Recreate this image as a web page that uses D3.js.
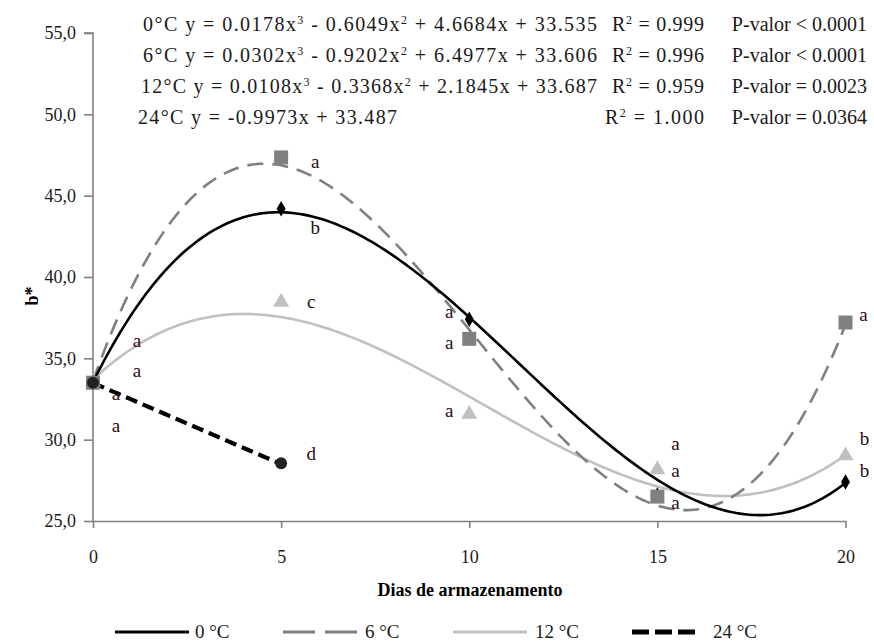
<!DOCTYPE html>
<html>
<head>
<meta charset="utf-8">
<script src="https://cdn.jsdelivr.net/npm/d3@7"></script>
<style>
  body { margin: 0; background: #fff; }
</style>
</head>
<body>
<script>
// storage days
var days = [0, 5, 10, 15, 20];

// observed b* values per temperature
var obs0 = [33.5, 44.2, 37.4, 26.6, 27.4];
var obs6 = [33.5, 47.35, 36.2, 26.5, 37.2];
var obs12 = [33.5, 38.4, 31.5, 28.1, 28.95];
var obs24 = [33.5, 28.55];

// regression coefficients as printed (x^3, x^2, x, const)
var coef0 = [0.0178, -0.6049, 4.6684, 33.535];
var coef6 = [0.0302, -0.9202, 6.4977, 33.606];
var coef12 = [0.0108, -0.3368, 2.1845, 33.687];
var coef24 = [0, 0, -0.9973, 33.487];

// significance letters per temperature
var let0 = ["a", "b", "a", "a", "b"];
var let6 = ["a", "a", "a", "a", "a"];
var let12 = ["a", "c", "a", "a", "b"];
var let24 = ["a", "d"];

var yTicks = [25, 30, 35, 40, 45, 50, 55];
var xTicks = [0, 5, 10, 15, 20];

var FONT = "'Liberation Serif', 'DejaVu Serif', serif";
var W = 874, H = 643;
var svg = d3.select("body").append("svg").attr("width", W).attr("height", H)
  .style("font-family", FONT);

var x = d3.scaleLinear().domain([0, 20]).range([93, 845.5]);
var y = d3.scaleLinear().domain([25, 55]).range([521, 33]);

// axes
var yAxis = d3.axisLeft(y).tickValues(yTicks).tickSize(9).tickPadding(8)
  .tickFormat(function(d) { return d3.format(".1f")(d).replace(".", ","); });
var gy = svg.append("g").attr("transform", "translate(" + x(0) + ",0)").call(yAxis);
var xAxis = d3.axisBottom(x).tickValues(xTicks).tickSize(7).tickPadding(22).tickSizeOuter(0);
var gx = svg.append("g").attr("transform", "translate(0," + y(25) + ")").call(xAxis);
[gx, gy].forEach(function(g) {
  g.attr("font-family", FONT);
  g.select(".domain").attr("stroke", "#808080").attr("stroke-width", 1.6);
  g.selectAll(".tick line").attr("stroke", "#808080").attr("stroke-width", 1.6);
  g.selectAll(".tick text").attr("font-size", 18).attr("fill", "#1a1a1a")
    .style("font-family", FONT);
});
gy.select(".domain").attr("d", "M-9," + y(55) + "H0V" + y(25));

svg.append("text").attr("x", 470).attr("y", 596).attr("text-anchor", "middle")
  .style("font-family", FONT)
  .attr("font-size", 18).attr("font-weight", "bold").text("Dias de armazenamento");
svg.append("text").attr("transform", "translate(38,296) rotate(-90)")
  .style("font-family", FONT)
  .attr("text-anchor", "middle").attr("font-size", 18).attr("font-weight", "bold").text("b*");

function poly(c) {
  return function(t) { return c[0] * t * t * t + c[1] * t * t + c[2] * t + c[3]; };
}

var series = [
  {coef: coef0, obs: obs0, lets: let0, stroke: "#000", width: 2.6, dash: null, xmax: 20, name: "0 °C"},
  {coef: coef6, obs: obs6, lets: let6, stroke: "#808080", width: 2.6, dash: "16,9", xmax: 20, name: "6 °C"},
  {coef: coef12, obs: obs12, lets: let12, stroke: "#c0c0c0", width: 2.6, dash: null, xmax: 20, name: "12 °C"},
  {coef: coef24, obs: obs24, lets: let24, stroke: "#000", width: 4.2, dash: "12,6", xmax: 5, name: "24 °C"}
];

var line = d3.line().x(function(d) { return x(d[0]); }).y(function(d) { return y(d[1]); });

// draw order: 12, 6, 0, 24
[2, 1, 0, 3].forEach(function(i) {
  var s = series[i], f = poly(s.coef);
  var pts = d3.range(0, s.xmax + 0.001, 0.1).map(function(t) { return [t, f(t)]; });
  svg.append("path").attr("d", line(pts)).attr("fill", "none")
    .attr("stroke", s.stroke).attr("stroke-width", s.width)
    .attr("stroke-dasharray", s.dash);
});

// markers
function drawMarkers(obs, kind) {
  var g = svg.append("g");
  obs.forEach(function(v, i) {
    var px = x(days[i]), py = y(v);
    if (kind === "square") {
      g.append("rect").attr("x", px - 7).attr("y", py - 7).attr("width", 14).attr("height", 14).attr("fill", "#808080");
    } else if (kind === "tri") {
      g.append("path").attr("d", d3.symbol().type(d3.symbolTriangle).size(110)()).attr("transform", "translate(" + px + "," + (py - 1) + ")").attr("fill", "#c0c0c0");
    } else if (kind === "diamond") {
      g.append("path").attr("d", d3.symbol().type(d3.symbolDiamond).size(70)()).attr("transform", "translate(" + px + "," + py + ")").attr("fill", "#000");
    } else {
      g.append("circle").attr("cx", px).attr("cy", py).attr("r", 6).attr("fill", "#222");
    }
  });
}
drawMarkers(obs12, "tri");
drawMarkers(obs0, "diamond");
drawMarkers(obs6, "square");
drawMarkers(obs24, "circle");

// letters: [series, day index, dx, dy of letter centre from point]
var letterPos = [
  [0, 0, 44, -41], [6, 0, 44, -11], [12, 0, 23, 12], [24, 0, 23, 44],
  [6, 1, 34, 6], [0, 1, 34, 20], [12, 1, 30, 0], [24, 1, 30, -8],
  [0, 2, -20, -6], [6, 2, -20, 5], [12, 2, -20, -3],
  [0, 3, 18, -50], [12, 3, 18, 1], [6, 3, 18, 7],
  [6, 4, 18, -7], [12, 4, 19, -17], [0, 4, 19, -10]
];
var map = {0: series[0], 6: series[1], 12: series[2], 24: series[3]};
letterPos.forEach(function(p) {
  var s = map[p[0]];
  svg.append("text").attr("x", x(days[p[1]]) + p[2]).attr("y", y(s.obs[p[1]]) + p[3] + 5)
    .style("font-family", FONT)
    .attr("font-size", 19).attr("text-anchor", "middle").attr("fill", "#2a0d0d").text(s.lets[p[1]]);
});

// equations block
var eqRows = [
  {lab: "0°C", c: coef0, r2: "0.999", p: "P-valor < 0.0001", x0: 143, x1: 597, rx: 612},
  {lab: "6°C", c: coef6, r2: "0.996", p: "P-valor < 0.0001", x0: 143, x1: 597, rx: 612},
  {lab: "12°C", c: coef12, r2: "0.959", p: "P-valor = 0.0023", x0: 141, x1: 597, rx: 612},
  {lab: "24°C", c: coef24, r2: "1.000", p: "P-valor = 0.0364", x0: 138, x1: 397, rx: 605}
];
var rowY = [31, 62, 93, 124];
eqRows.forEach(function(r, i) {
  var t = svg.append("text").attr("x", r.x0).attr("y", rowY[i]).attr("font-size", 20)
    .style("font-family", FONT).attr("fill", "#1a1a1a")
    .attr("textLength", r.x1 - r.x0).attr("lengthAdjust", "spacing");
  t.append("tspan").text(r.lab + " y = ");
  var c = r.c;
  if (c[0] !== 0) {
    t.append("tspan").text(" " + c[0].toFixed(4) + "x");
    t.append("tspan").attr("dy", -7).attr("font-size", 12).text("3");
    t.append("tspan").attr("dy", 7).text(" - " + Math.abs(c[1]).toFixed(4) + "x");
    t.append("tspan").attr("dy", -7).attr("font-size", 12).text("2");
    t.append("tspan").attr("dy", 7).text(" + " + c[2].toFixed(4) + "x + " + c[3].toFixed(3));
  } else {
    t.append("tspan").text("-" + Math.abs(c[2]).toFixed(4) + "x + " + c[3].toFixed(3));
  }
  var rt = svg.append("text").attr("x", r.rx).attr("y", rowY[i]).attr("font-size", 20)
    .style("font-family", FONT).attr("fill", "#1a1a1a")
    .attr("textLength", 704 - r.rx).attr("lengthAdjust", "spacing");
  rt.append("tspan").text("R");
  rt.append("tspan").attr("dy", -7).attr("font-size", 12).text("2");
  rt.append("tspan").attr("dy", 7).text(" = " + r.r2);
  svg.append("text").attr("x", 867).attr("y", rowY[i]).attr("font-size", 20)
    .style("font-family", FONT).attr("fill", "#1a1a1a")
    .attr("text-anchor", "end").text(r.p);
});

// legend
var legX = [115, 283, 453, 632];
var legText = [195, 365, 535, 713];
var legY = 632;
series.forEach(function(s, i) {
  svg.append("line").attr("x1", legX[i]).attr("x2", legX[i] + (i === 3 ? 68 : 74))
    .attr("y1", legY).attr("y2", legY).attr("stroke", s.stroke)
    .attr("stroke-width", i === 3 ? 5 : 3.2)
    .attr("stroke-dasharray", i === 1 ? "32,10" : (i === 3 ? "17,6" : null));
  svg.append("text").attr("x", legText[i]).attr("y", legY + 6).attr("font-size", 19)
    .style("font-family", FONT).attr("fill", "#1a1a1a").text(s.name);
});
</script>
</body>
</html>
